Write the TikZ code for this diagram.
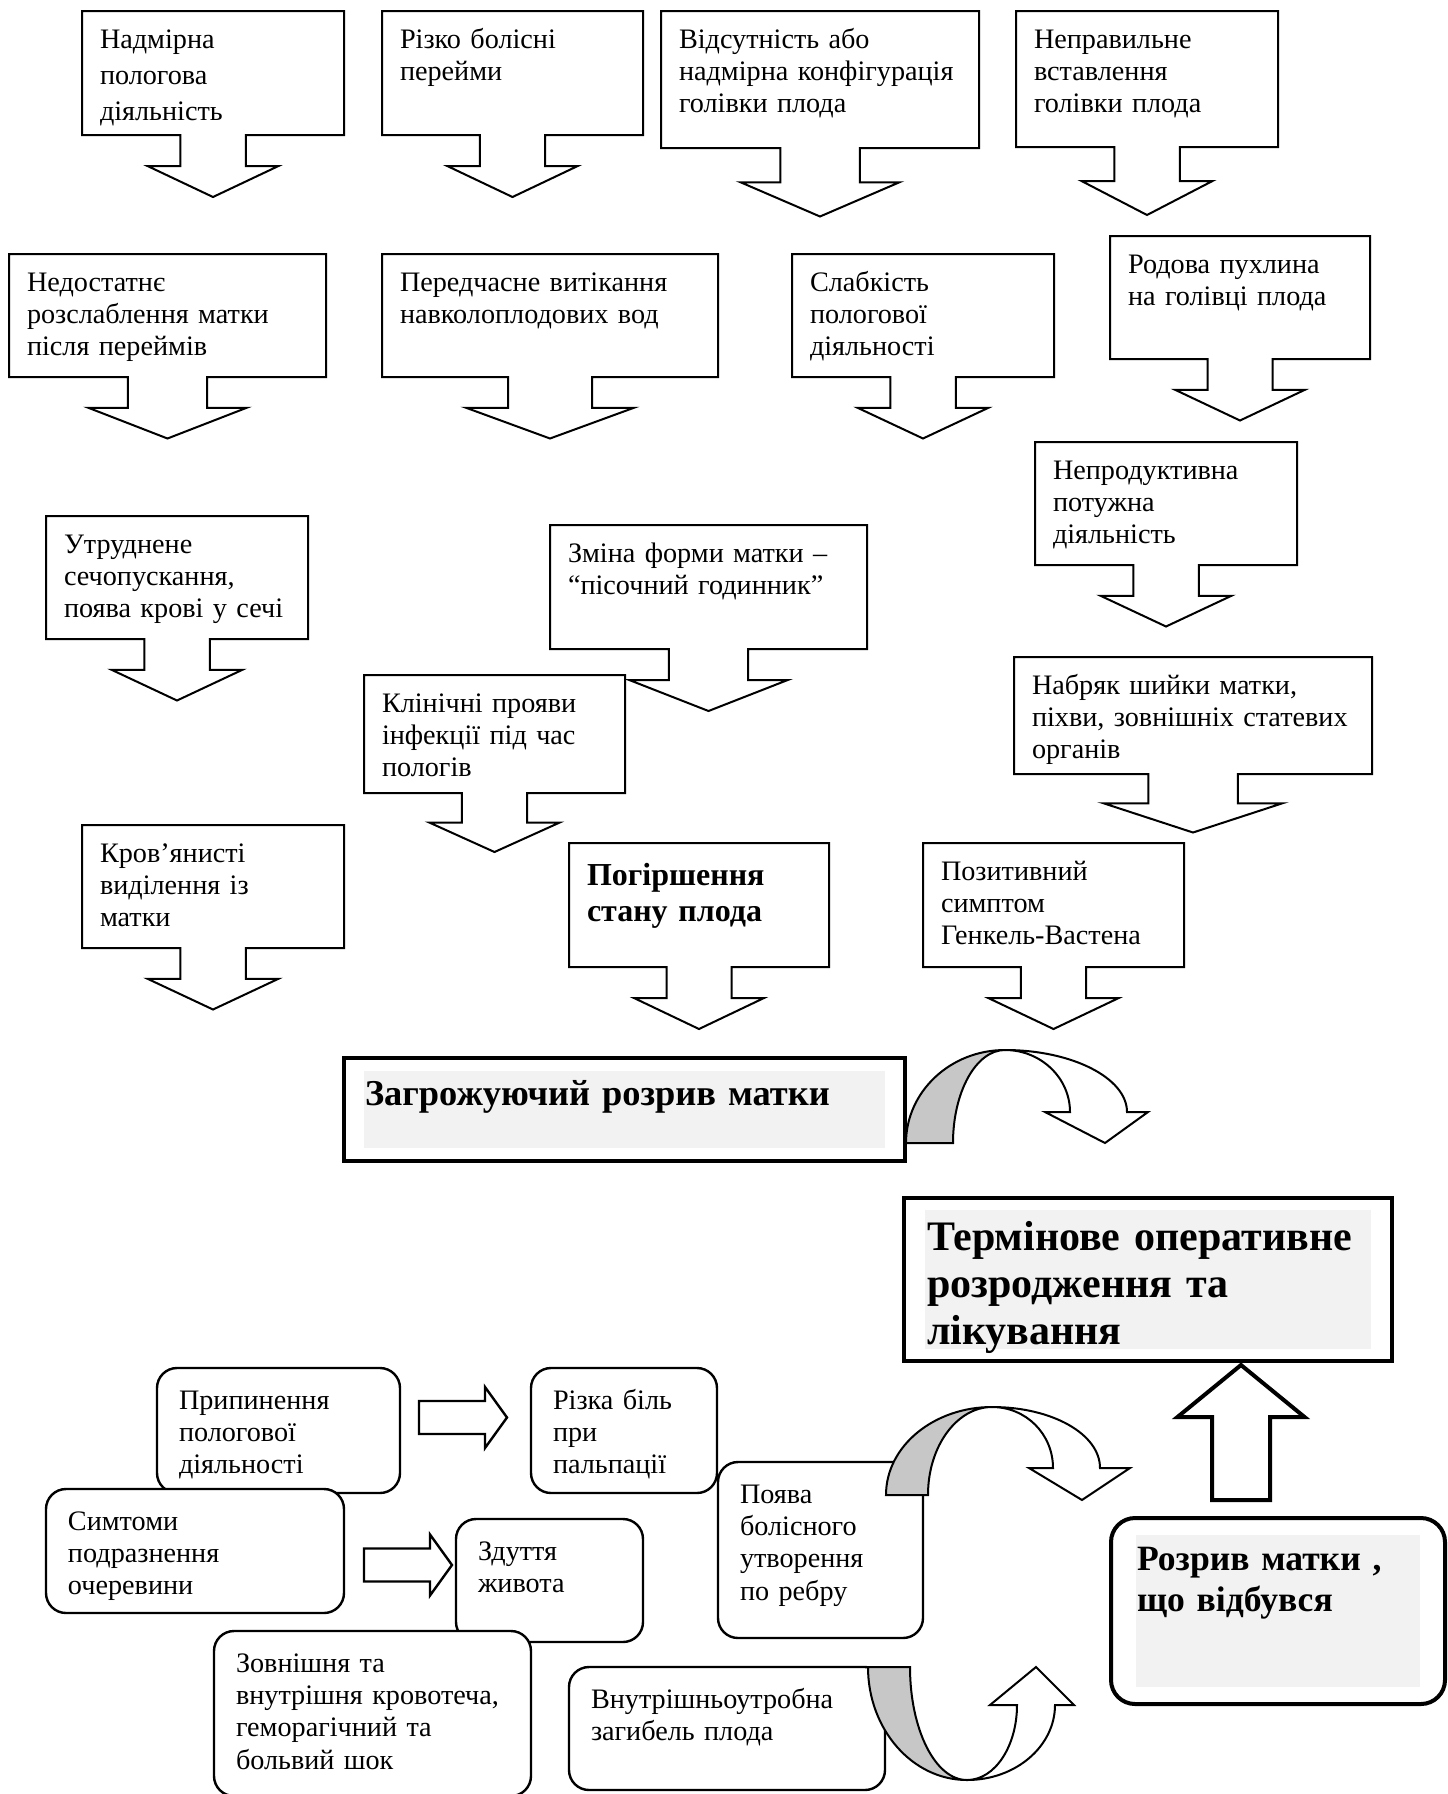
\documentclass[tikz,border=0pt]{standalone}
\usepackage{fontspec}
\setmainfont{Liberation Serif}
\usetikzlibrary{calc}

% font sizes used in the chart
\newcommand{\boxfont}{\fontsize{14.1}{16.2}\selectfont}
\newcommand{\widefont}{\fontsize{14.1}{18}\selectfont}
\newcommand{\fetusfont}{\fontsize{16}{18.3}\selectfont\bfseries}
\newcommand{\threatfont}{\fontsize{18.2}{21}\selectfont\bfseries}
\newcommand{\urgentfont}{\fontsize{21}{23.5}\selectfont\bfseries}
\newcommand{\rupturefont}{\fontsize{17.8}{20.5}\selectfont\bfseries}

\tikzset{
  cbox/.style 2 args={anchor=north west, outer sep=0pt, inner xsep=9pt,
    inner ysep=0pt, align=left, font=\boxfont, text width={(#1-36)*0.5pt},
    text height=18.5pt, text depth={(#2-37)*0.5pt}},
  rbox/.style 2 args={cbox={#1}{#2}, draw, fill=white, line width=1.2pt,
    rounded corners=10pt, inner xsep=11pt, text width={(#1-44)*0.5pt},
    text height=20.5pt, text depth={(#2-41)*0.5pt}},
  bigbox/.style n args={4}{anchor=north west, outer sep=0pt, draw, fill=white,
    line width=2pt, inner xsep={#4*0.5pt}, inner ysep=0pt, align=left,
    text width={(#1-2*#4)*0.5pt}, text height={#3*0.5pt},
    text depth={(#2-#3)*0.5pt}},
  inset/.style 2 args={path picture={\fill[black!5, sharp corners]
    ([shift={(#1,#2)}]path picture bounding box.north west) rectangle
    ([shift={(-#1,-#2)}]path picture bounding box.south east);}},
  outline/.style={draw, line width=1pt},
  blockarrow/.style={draw, fill=white, line width=1.2pt},
  bendback/.style={draw, fill=black!22, line width=1pt},
  bendfront/.style={draw, fill=white, line width=1pt}
}

% box with a down arrow hanging from its bottom edge
\newcommand{\callout}[1]{%
  \draw[outline] let \p1=(#1.south west), \p2=(#1.north east),
      \n1={(\x2-\x1)/8}, \n2={(\y2-\y1)/4}, \n3={(\x1+\x2)/2} in
    (\p1) -- (\x1,\y2) -- (\p2) -- (\x2,\y1)
    -- ({(\n3+\n1)*1pt},\y1) -- ({(\n3+\n1)*1pt},{\y1-\n2})
    -- ({(\n3+2*\n1)*1pt},{\y1-\n2}) -- ({\n3*1pt},{\y1-2*\n2})
    -- ({(\n3-2*\n1)*1pt},{\y1-\n2}) -- ({(\n3-\n1)*1pt},{\y1-\n2})
    -- ({(\n3-\n1)*1pt},\y1) -- cycle;}

% hollow arrow pointing right, from #1 to #2
\newcommand{\rightblock}[2]{%
  \draw[blockarrow] let \p1=(#1), \p2=(#2) in
    (\x1,{\y1+8.25pt}) -- ({\x2-11pt},{\y1+8.25pt}) -- ({\x2-11pt},{\y1+15.25pt})
    -- (\x2,\y1) -- ({\x2-11pt},{\y1-15.25pt}) -- ({\x2-11pt},{\y1-8.25pt})
    -- (\x1,{\y1-8.25pt}) -- cycle;}

\begin{document}
\begin{tikzpicture}[x=0.5pt, y=-0.5pt]
  \fill[white] (0,0) rectangle (1447,1794);
  \useasboundingbox (0,0) rectangle (1447,1794);

  % first row
  \node[cbox={262}{124}, font=\widefont] (nadm) at (82,11) {Надмірна\\пологова\\діяльність};
  \callout{nadm}
  \node[cbox={261}{124}] (perej) at (382,11) {Різко болісні\\перейми};
  \callout{perej}
  \node[cbox={318}{137}] (konf) at (661,11) {Відсутність або\\надмірна конфігурація\\голівки плода};
  \callout{konf}
  \node[cbox={262}{136}] (vstav) at (1016,11) {Неправильне\\вставлення\\голівки плода};
  \callout{vstav}

  % second row
  \node[cbox={317}{123}] (rozsl) at (9,254) {Недостатнє\\розслаблення матки\\після переймів};
  \callout{rozsl}
  \node[cbox={336}{123}] (vody) at (382,254) {Передчасне витікання\\навколоплодових вод};
  \callout{vody}
  \node[cbox={262}{123}] (slab) at (792,254) {Слабкість\\пологової\\діяльності};
  \callout{slab}
  \node[cbox={260}{123}] (puhl) at (1110,236) {Родова пухлина\\на голівці плода};
  \callout{puhl}

  % third row
  \node[cbox={262}{123}] (nepr) at (1035,442) {Непродуктивна\\потужна\\діяльність};
  \callout{nepr}
  \node[cbox={262}{123}] (sech) at (46,516) {Утруднене\\сечопускання,\\поява крові у сечі};
  \callout{sech}
  \node[cbox={317}{124}] (godyn) at (550,525) {Зміна форми матки –\\“пісочний годинник”};
  \callout{godyn}
  \node[cbox={261}{118}] (infek) at (364,675) {Клінічні прояви\\інфекції під час\\пологів};
  \callout{infek}
  \node[cbox={358}{117}] (nabr) at (1014,657) {Набряк шийки матки,\\піхви, зовнішніх статевих\\органів};
  \callout{nabr}

  % fourth row
  \node[cbox={262}{123}] (krov) at (82,825) {Кров’янисті\\виділення із\\матки};
  \callout{krov}
  \node[cbox={260}{124}, font=\fetusfont, text height=21pt, text depth=41pt] (plid) at (569,843) {Погіршення\\стану плода};
  \callout{plid}
  \node[cbox={261}{124}] (vasten) at (923,843) {Позитивний\\симптом\\Генкель-Вастена};
  \callout{vasten}

  % threatening rupture
  \node[bigbox={561}{103}{47}{21}, inset={20}{13}, font=\threatfont] (zagroza) at (344,1058) {Загрожуючий розрив матки};
  \draw[bendback] (906,1143) .. controls (906,1092) and (950,1050) .. (1005,1050)
    .. controls (976,1050) and (953,1092) .. (953,1143) -- cycle;
  \draw[bendfront] (1005,1050) .. controls (1072,1050) and (1127,1078) .. (1127,1112)
    -- (1148,1112) -- (1105,1143) -- (1045,1112) -- (1070,1112)
    .. controls (1070,1078) and (1041,1050) .. (1005,1050) -- cycle;

  \node[bigbox={488}{163}{52}{23}, inset={21}{12}, font=\urgentfont, line width=2.2pt] (termin) at (904,1198) {Термінове оперативне\\розродження та\\лікування};

  % signs of a completed rupture
  \node[rbox={243}{125}] (prypyn) at (157,1368) {Припинення\\пологової\\діяльності};
  \node[rbox={186}{125}] (bil) at (531,1368) {Різка біль\\при\\пальпації};
  \rightblock{$(prypyn.east)+(19,-13)$}{$(bil.west)+(-24,-13)$}
  \node[rbox={298}{124}] (ocher) at (46,1489) {Симтоми\\подразнення\\очеревини};
  \node[rbox={187}{123}] (zdut) at (456,1519) {Здуття\\живота};
  \rightblock{$(ocher.east)+(20,14)$}{$(zdut.west)+(-4,-15.5)$}
  \node[rbox={205}{176}] (utvor) at (718,1462) {Поява\\болісного\\утворення\\по ребру};
  \draw[bendback] (886,1495) .. controls (886,1446) and (934,1407) .. (992,1407)
    .. controls (957,1407) and (928,1446) .. (928,1495) -- cycle;
  \draw[bendfront] (992,1407) .. controls (1052,1407) and (1100,1434) .. (1100,1468)
    -- (1130,1468) -- (1082,1500) -- (1029,1468) -- (1053,1468)
    .. controls (1053,1434) and (1026,1407) .. (992,1407) -- cycle;
  \node[rbox={317}{165}] (krovot) at (214,1631) {Зовнішня та\\внутрішня кровотеча,\\геморагічний та\\больвий шок};
  \node[rbox={316}{123}] (zagyb) at (569,1667) {Внутрішньоутробна\\загибель плода};
  \draw[bendback] (868,1667) .. controls (868,1729) and (912,1780) .. (967,1780)
    .. controls (935,1780) and (910,1729) .. (910,1667) -- cycle;
  \draw[bendfront] (967,1780) .. controls (1016,1780) and (1055,1746) .. (1055,1705)
    -- (1074,1705) -- (1036,1667) -- (990,1705) -- (1017,1705)
    .. controls (1017,1746) and (995,1780) .. (967,1780) -- cycle;

  \node[bigbox={334}{186}{52}{26}, inset={25}{17}, rounded corners=12pt, font=\rupturefont] (rozryv) at (1111,1518) {Розрив матки ,\\що відбувся};

  % up to the operative delivery
  \draw[blockarrow, line width=2pt] let \p1=($(rozryv.north)+(-37,-18)$), \p2=($(termin.south)+(93,4)$) in
    ({\x1-14.5pt},\y1) -- ({\x1-14.5pt},{\y2-26pt}) -- ({\x1-31.75pt},{\y2-26pt})
    -- (\x1,\y2) -- ({\x1+31.75pt},{\y2-26pt}) -- ({\x1+14.5pt},{\y2-26pt})
    -- ({\x1+14.5pt},\y1) -- cycle;
\end{tikzpicture}
\end{document}
